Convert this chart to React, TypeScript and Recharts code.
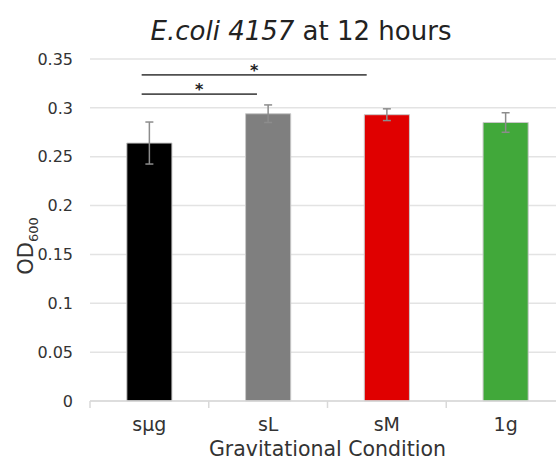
import React from 'react';
import {
  BarChart,
  Bar,
  XAxis,
  YAxis,
  CartesianGrid,
  ErrorBar,
  Cell,
  ReferenceLine,
  ReferenceDot
} from 'recharts';

const conditions = ['sμg', 'sL', 'sM', '1g'];
const odValues = [0.264, 0.294, 0.293, 0.285];
const odErrors = [0.0215, 0.009, 0.006, 0.010];
const barColors = ['#000000', '#7f7f7f', '#e00000', '#41a83a'];
const yTicks = [0, 0.05, 0.1, 0.15, 0.2, 0.25, 0.3, 0.35];

// significance brackets, x in band units (0..4), y in OD units
const brackets = [
  { from: 0.435, to: 2.33, y: 0.3337 },
  { from: 0.435, to: 1.406, y: 0.314 }
];

const FONT = '"DejaVu Sans", sans-serif';
const TEXT = '#333333';
const LIGHT = '#d9d9d9';
const TICK_GAP = 17;

function OdLabel() {
  return (
    <text
      transform="translate(33,246) rotate(-90)"
      textAnchor="middle"
      fontSize={21}
      fontFamily={FONT}
      fill={TEXT}
    >
      OD
      <tspan fontSize={13} dy={5}>600</tspan>
    </text>
  );
}

// category label plus a separator tick at the left edge of its band
function CatTick(props: any) {
  const { x, y, payload } = props;
  const half = payload && payload.offset ? payload.offset : 59.4;
  const axisY = y - TICK_GAP;
  return (
    <g>
      <line x1={x - half} x2={x - half} y1={axisY} y2={axisY + 7} stroke={LIGHT} strokeWidth={1.5} />
      <text x={x} y={y} dy="0.71em" textAnchor="middle" fontSize={19} fontFamily={FONT} fill={TEXT}>
        {payload.value}
      </text>
    </g>
  );
}

export default function App() {
  const chartData = conditions.map((name, i) => ({
    name,
    pos: i + 0.5,
    od: odValues[i],
    err: odErrors[i]
  }));

  return (
    <div style={{ position: 'relative', width: 556, height: 464, overflow: 'hidden', background: '#fff' }}>
      <style>{'html{overflow:hidden} body{margin:0}'}</style>
      <div
        style={{
          position: 'absolute',
          top: 18,
          left: 0,
          width: 602,
          textAlign: 'center',
          fontFamily: FONT,
          fontSize: 26,
          lineHeight: '26px',
          color: '#222',
          zIndex: 1
        }}
      >
        <i>E.coli 4157</i> at 12 hours
      </div>
      <BarChart
        width={580}
        height={464}
        data={chartData}
        margin={{ top: 59, right: 15, left: 0, bottom: 0 }}
        barCategoryGap="69%"
      >
        <CartesianGrid vertical={false} stroke="#e3e3e3" strokeWidth={1.5} />
        <XAxis
          xAxisId="num"
          dataKey="pos"
          type="number"
          domain={[0, 4]}
          allowDataOverflow
          hide
        />
        <XAxis
          xAxisId="cat"
          dataKey="name"
          height={63}
          axisLine={{ stroke: LIGHT, strokeWidth: 1.5 }}
          tickLine={false}
          tickSize={8}
          tickMargin={9}
          tick={<CatTick />}
          label={{
            value: 'Gravitational Condition',
            position: 'insideBottom',
            offset: 8,
            fontSize: 20.5,
            fontFamily: FONT,
            fill: TEXT
          }}
        />
        <YAxis
          width={90}
          domain={[0, 0.35]}
          ticks={yTicks}
          axisLine={false}
          tickLine={false}
          tickSize={8}
          tickMargin={9}
          tick={{ fontSize: 16, fontFamily: FONT, fill: TEXT }}
          label={<OdLabel />}
        />
        <Bar
          xAxisId="cat"
          dataKey="od"
          isAnimationActive={false}
          stroke="#c8c8c8"
          strokeWidth={1}
        >
          {chartData.map((d, i) => (
            <Cell key={d.name} fill={barColors[i]} />
          ))}
          <ErrorBar dataKey="err" width={4} stroke="#8c8c8c" strokeWidth={1.5} />
        </Bar>
        {brackets.map((b, i) => (
          <ReferenceLine
            key={`line-${i}`}
            xAxisId="num"
            segment={[{ x: b.from, y: b.y }, { x: b.to, y: b.y }]}
            stroke="#505050"
            strokeWidth={1.8}
          />
        ))}
        {brackets.map((b, i) => (
          <ReferenceDot
            key={`star-${i}`}
            xAxisId="num"
            x={(b.from + b.to) / 2}
            y={b.y}
            r={0}
            fill="none"
            stroke="none"
            label={{ value: '*', position: 'top', offset: -1, fontSize: 16, fontWeight: 'bold', fontFamily: FONT, fill: '#222' }}
          />
        ))}
      </BarChart>
    </div>
  );
}
